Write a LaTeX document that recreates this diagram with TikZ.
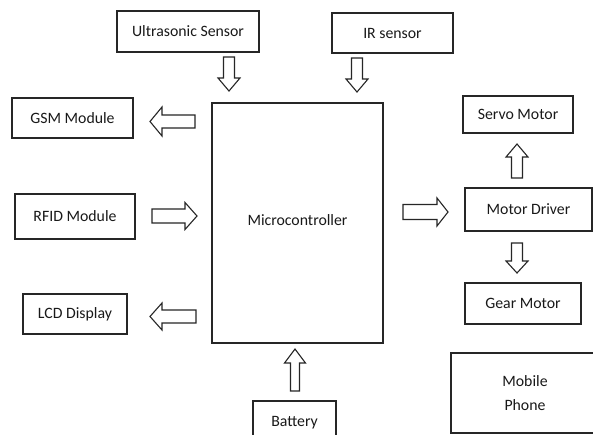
\documentclass[tikz,border=0pt]{standalone}
\usepackage{fontspec}
\setmainfont{Carlito}
\begin{document}
\begin{tikzpicture}[x=1pt,y=-1pt,
  box/.style={draw=black!85, line width=1.1pt, inner sep=0pt, align=center,
    font=\fontsize{15.8}{24}\selectfont, text=black!90},
  barr/.style={draw=black!85, line width=1.1pt, fill=white, line join=miter}]
\clip (0,0) rectangle (593,434);
\fill[white] (0,0) rectangle (593,434);
% boxes
\node[box, minimum width=142pt, minimum height=41pt] (us) at (188,31.5) {Ultrasonic Sensor};
\node[box, minimum width=121pt, minimum height=40pt] (ir) at (392.5,33) {IR sensor};
\node[box, minimum width=121pt, minimum height=40pt] (gsm) at (72.5,118) {GSM Module};
\node[box, minimum width=120pt, minimum height=45pt] (rfid) at (75,216.5) {RFID Module};
\node[box, minimum width=104pt, minimum height=40pt] (lcd) at (75,314) {LCD Display};
\node[box, minimum width=171pt, minimum height=240pt] (mc) at (297.5,223) {\raisebox{6pt}{Microcontroller}};
\node[box, minimum width=110pt, minimum height=37pt] (servo) at (518,114.5) {Servo Motor};
\node[box, minimum width=127pt, minimum height=43pt] (md) at (528.5,209.5) {Motor Driver};
\node[box, minimum width=116pt, minimum height=41pt] (gear) at (523,303.5) {Gear Motor};
\node[box, minimum width=83pt, minimum height=44pt] (bat) at (294.5,423) {Battery};
\node[box, minimum width=148pt, minimum height=80pt] (mob) at (525,393) {Mobile\\Phone};
% block arrows: #1 start, #2 angle, #3 length, #4 shaft half, #5 head half, #6 head length
\newcommand\blockarrow[6]{%
  \draw[barr, shift={(#1)}, rotate=#2]
    (0pt,-#4pt) -- ({#3pt-#6pt},-#4pt) -- ({#3pt-#6pt},-#5pt) -- (#3pt,0pt)
    -- ({#3pt-#6pt},#5pt) -- ({#3pt-#6pt},#4pt) -- (0pt,#4pt) -- cycle;}
\coordinate (usA) at (229,57);
\coordinate (irA) at (357,58);
\coordinate (gsmA) at (195,121.5);
\coordinate (rfidA) at (152,216);
\coordinate (lcdA) at (196,316.5);
\coordinate (mdA) at (403,212);
\coordinate (servoA) at (517,178);
\coordinate (gearA) at (517,243);
\coordinate (batA) at (295,391);
\blockarrow{usA}{-90}{34}{5.5}{11}{13}
\blockarrow{irA}{-90}{34}{5.5}{11}{13}
\blockarrow{gsmA}{180}{45}{6.5}{14.5}{12}
\blockarrow{rfidA}{0}{45}{7}{13.5}{12}
\blockarrow{lcdA}{180}{46}{6.5}{13.5}{12}
\blockarrow{mdA}{0}{45}{7.5}{14}{11}
\blockarrow{servoA}{90}{34}{5.5}{11}{13}
\blockarrow{gearA}{-90}{30}{5.5}{11}{12}
\blockarrow{batA}{90}{42}{4.5}{10.5}{14}
\end{tikzpicture}
\end{document}
